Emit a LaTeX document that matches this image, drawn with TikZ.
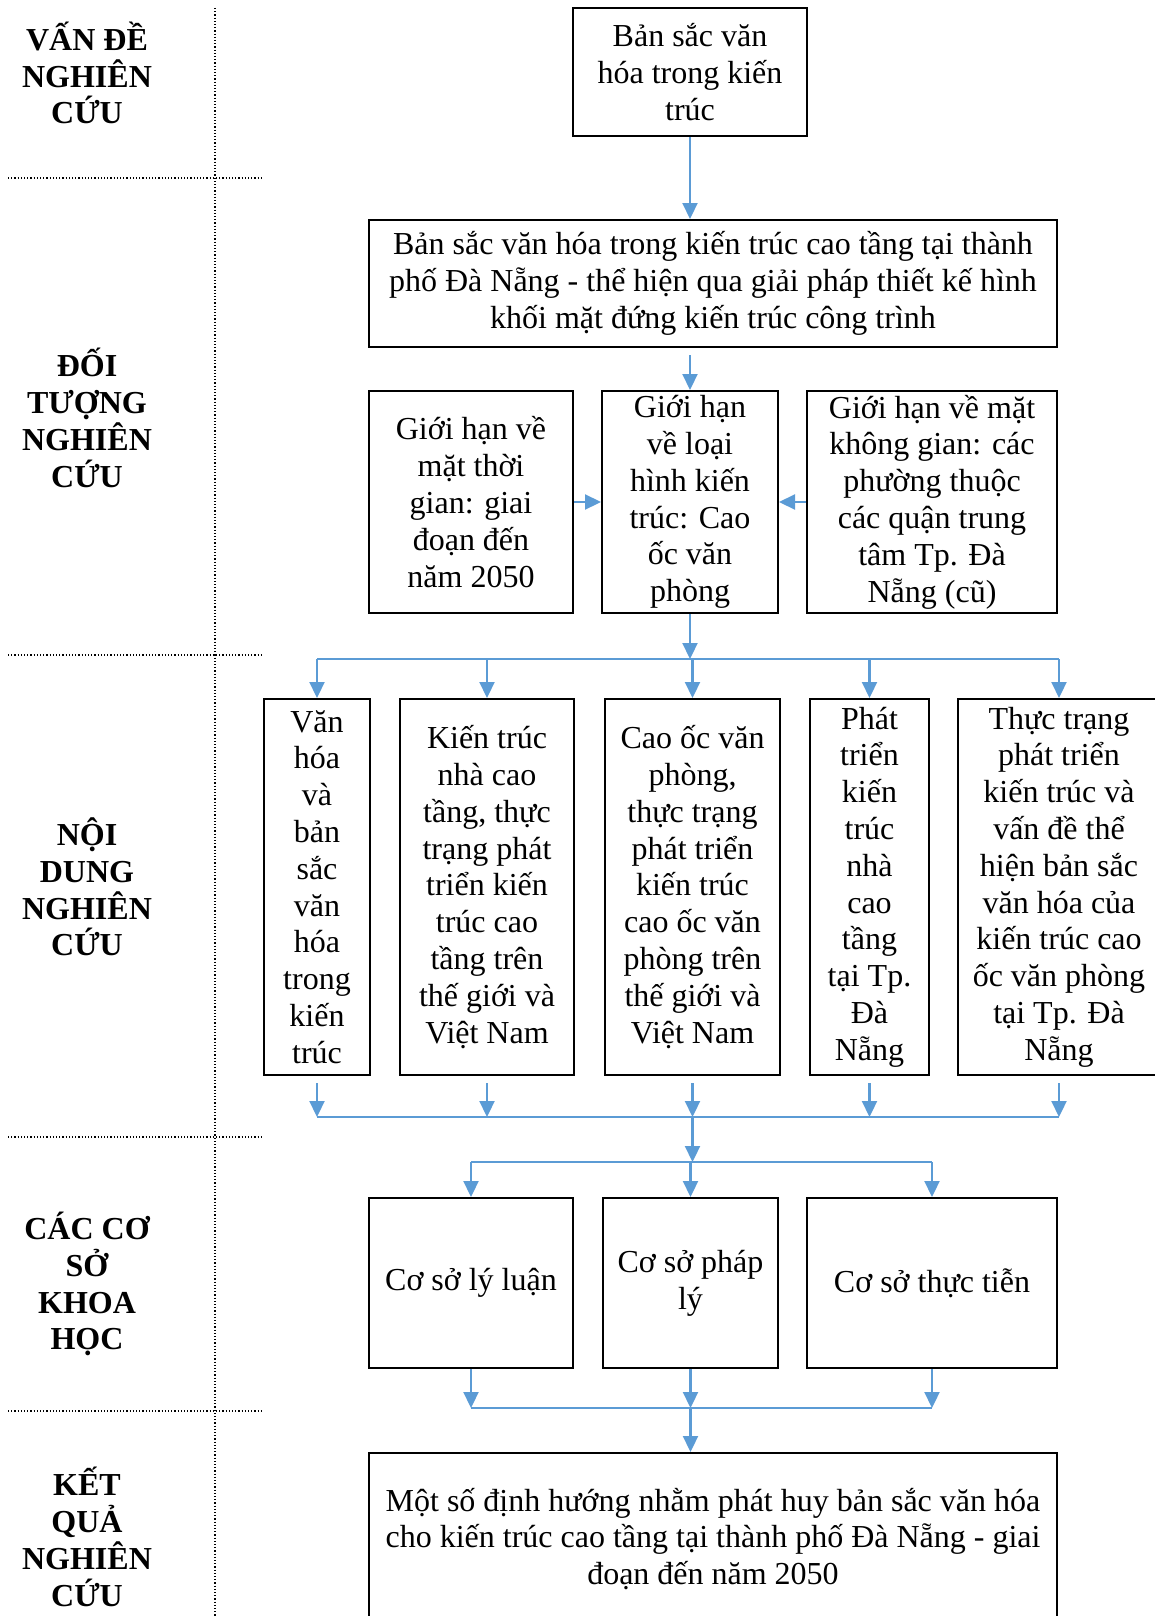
\documentclass[tikz,border=0pt]{standalone}
\usepackage{fontspec}
\setmainfont{Liberation Serif}
\usetikzlibrary{arrows.meta}
\definecolor{lineblue}{RGB}{91,155,213}
\tikzset{
  box/.style={draw,line width=1pt,inner sep=0pt,align=center,font=\fontsize{16}{18.4}\selectfont},
  lbl/.style={align=center,font=\fontsize{16}{18.4}\selectfont\bfseries},
  arr/.style={lineblue,line width=1.1pt,-{Triangle[length=8pt,width=7.5pt]}},
  bar/.style={lineblue,line width=1.1pt},
  sep/.style={densely dotted,line width=0.6pt}
}
\begin{document}
\begin{tikzpicture}[x=0.5pt,y=-0.5pt]
      \useasboundingbox (0,0) rectangle (1155,1616);
      \draw[sep] (215,8)--(215,1616);
      \draw[sep] (8,178)--(263,178) (8,655)--(263,655) (8,1137)--(263,1137) (8,1411)--(263,1411);
      \node[lbl] (l1) at (87,73) {VẤN ĐỀ\\NGHIÊN\\CỨU};
      \node[lbl] (l2) at (87,418) {ĐỐI\\TƯỢNG\\NGHIÊN\\CỨU};
      \node[lbl] (l3) at (87,887) {NỘI\\DUNG\\NGHIÊN\\CỨU};
      \node[lbl] (l4) at (87,1284) {CÁC CƠ\\SỞ\\KHOA\\HỌC};
      \node[lbl] (l5) at (87,1537) {KẾT\\QUẢ\\NGHIÊN\\CỨU};
      \node[box,minimum width=117pt,minimum height=64pt] (b1) at (690,72) {Bản sắc văn\\hóa trong kiến\\trúc};
      \node[box,minimum width=344pt,minimum height=63.5pt] (b2) at (713,283.5) {Bản sắc văn hóa trong kiến trúc cao tầng tại thành\\phố Đà Nẵng - thể hiện qua giải pháp thiết kế hình\\khối mặt đứng kiến trúc công trình};
      \node[box,minimum width=102pt,minimum height=111pt] (gl) at (471,502) {Giới hạn về\\mặt thời\\gian: giai\\đoạn đến\\năm 2050};
      \node[box,minimum width=88pt,minimum height=111pt] (gm) at (690,502) {Giới hạn\\về loại\\hình kiến\\trúc: Cao\\ốc văn\\phòng};
      \node[box,minimum width=125pt,minimum height=111pt] (gr) at (932,502) {Giới hạn về mặt\\không gian: các\\phường thuộc\\các quận trung\\tâm Tp. Đà\\Nẵng (cũ)};
      \node[box,minimum width=53pt,minimum height=188pt] (n1) at (317,887) {Văn\\hóa\\và\\bản\\sắc\\văn\\hóa\\trong\\kiến\\trúc};
      \node[box,minimum width=87pt,minimum height=188pt] (n2) at (487,887) {Kiến trúc\\nhà cao\\tầng, thực\\trạng phát\\triển kiến\\trúc cao\\tầng trên\\thế giới và\\Việt Nam};
      \node[box,minimum width=87.5pt,minimum height=188pt] (n3) at (692.5,887) {Cao ốc văn\\phòng,\\thực trạng\\phát triển\\kiến trúc\\cao ốc văn\\phòng trên\\thế giới và\\Việt Nam};
      \node[box,minimum width=59.5pt,minimum height=188pt] (n4) at (869.5,887) {Phát\\triển\\kiến\\trúc\\nhà\\cao\\tầng\\tại Tp.\\Đà\\Nẵng};
      \node[box,minimum width=101pt,minimum height=188pt] (n5) at (1059,887) {Thực trạng\\phát triển\\kiến trúc và\\vấn đề thể\\hiện bản sắc\\văn hóa của\\kiến trúc cao\\ốc văn phòng\\tại Tp. Đà\\Nẵng};
      \node[box,minimum width=102pt,minimum height=85pt] (c1) at (471,1283) {Cơ sở lý luận};
      \node[box,minimum width=87.5pt,minimum height=85pt] (c2) at (690.5,1283) {Cơ sở pháp\\lý};
      \node[box,minimum width=125pt,minimum height=85pt] (c3) at (932,1283) {Cơ sở thực tiễn};
      \node[box,minimum width=344pt,minimum height=86pt] (kq) at (713,1539) {Một số định hướng nhằm phát huy bản sắc văn hóa\\cho kiến trúc cao tầng tại thành phố Đà Nẵng - giai\\đoạn đến năm 2050};
      \coordinate (t1) at (688,659);
      \coordinate (t2) at (688,1117);
      \coordinate (t3) at (688,1162);
      \coordinate (t4) at (688,1408);
      \draw[arr] (b1.south)--(b1.south |- b2.north);
      \draw[arr,shorten <=3.5pt] (b2.south -| gm.north)--(gm.north);
      \draw[arr] (gl.east)--(gm.west);
      \draw[arr] (gr.west)--(gm.east);
      \draw[arr] (gm.south)--(gm.south |- t1);
      \draw[bar] (n1.north |- t1)--(n5.north |- t1);
      \draw[arr] (n1.north |- t1)--(n1.north);
      \draw[arr] (n2.north |- t1)--(n2.north);
      \draw[arr] (n3.north |- t1)--(n3.north);
      \draw[arr] (n4.north |- t1)--(n4.north);
      \draw[arr] (n5.north |- t1)--(n5.north);
      \draw[bar] (n1.south |- t2)--(n5.south |- t2);
      \draw[arr,shorten <=3.5pt] (n1.south)--(n1.south |- t2);
      \draw[arr,shorten <=3.5pt] (n2.south)--(n2.south |- t2);
      \draw[arr,shorten <=3.5pt] (n3.south)--(n3.south |- t2);
      \draw[arr,shorten <=3.5pt] (n4.south)--(n4.south |- t2);
      \draw[arr,shorten <=3.5pt] (n5.south)--(n5.south |- t2);
      \draw[arr] (n3.south |- t2)--(n3.south |- t3);
      \draw[bar] (c1.north |- t3)--(c3.north |- t3);
      \draw[arr] (c1.north |- t3)--(c1.north);
      \draw[arr] (c2.north |- t3)--(c2.north);
      \draw[arr] (c3.north |- t3)--(c3.north);
      \draw[bar] (c1.south |- t4)--(c3.south |- t4);
      \draw[arr] (c1.south)--(c1.south |- t4);
      \draw[arr] (c2.south)--(c2.south |- t4);
      \draw[arr] (c3.south)--(c3.south |- t4);
      \draw[arr] (c2.south |- t4)--(c2.south |- kq.north);
    \end{tikzpicture}
\end{document}
